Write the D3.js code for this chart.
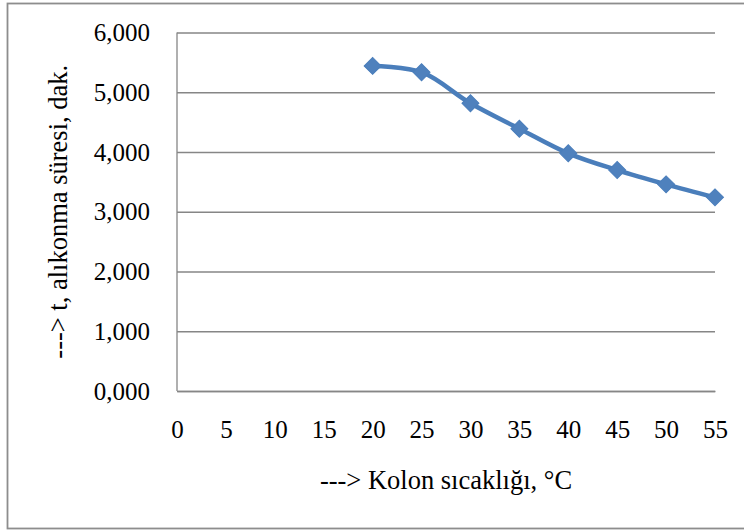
<!DOCTYPE html>
<html>
  <head>
    <meta charset="utf-8">
    <title>Kolon sıcaklığı ve alıkonma süresi</title>
    <script src="https://d3js.org/d3.v7.min.js"></script>
    <style>
      body { margin: 0; background: #fff; }
      svg { display: block; font-family: "Liberation Serif", "Times New Roman", serif; }
      .axis { font-family: "Liberation Serif", "Times New Roman", serif; }
      .axis text { fill: #000; font-size: 25px; }
      .axis path, .axis line { stroke: #868686; stroke-width: 1.3; }
      .title { font-size: 26.5px; fill: #000; }
    </style>
  </head>
  <body>
    <svg id="chart" width="744" height="530"></svg>
    <script>
      // data (column temperature °C, retention time min)
      const temps = [20, 25, 30, 35, 40, 45, 50, 55];
      const times = [5.441, 5.335, 4.816, 4.390, 3.978, 3.698, 3.459, 3.241];
      const xTicks = [0, 5, 10, 15, 20, 25, 30, 35, 40, 45, 50, 55];
      const yTicks = [0, 1, 2, 3, 4, 5, 6];
      const xTitle = "---> Kolon sıcaklığı, °C";
      const yTitle = "---> t, alıkonma süresi, dak.";

      const svg = d3.select("#chart");
      const margin = {left: 177, right: 29, top: 32.5, bottom: 139};
      const width = 744 - margin.left - margin.right;
      const height = 530 - margin.top - margin.bottom;

      // outer frame
      svg.append("rect")
        .attr("x", 7.5).attr("y", 3.5)
        .attr("width", 740).attr("height", 525)
        .attr("fill", "none")
        .attr("stroke", "#8d8d8d")
        .attr("stroke-width", 1.8);

      const g = svg.append("g")
        .attr("transform", "translate(" + margin.left + "," + margin.top + ")");

      const x = d3.scaleLinear().domain([0, 55]).range([0, width]);
      const y = d3.scaleLinear().domain([0, 6]).range([height, 0]);

      // turkish style number format: 6,000
      const tr = d3.formatLocale({decimal: ",", thousands: ".", grouping: [3], currency: ["", " TL"]});
      const yFormat = tr.format(".3f");

      g.append("g")
        .attr("class", "axis y")
        .call(d3.axisLeft(y).tickValues(yTicks).tickSize(-width).tickPadding(27).tickFormat(yFormat))
        .call(function(a) { a.attr("font-family", null).attr("font-size", null); })
        .call(function(a) { a.select(".domain").attr("d", "M0," + y(6) + "V" + y(0)); });

      g.append("g")
        .attr("class", "axis x")
        .attr("transform", "translate(0," + height + ")")
        .call(d3.axisBottom(x).tickValues(xTicks).tickSize(0).tickPadding(29))
        .call(function(a) { a.attr("font-family", null).attr("font-size", null); });

      // series
      const pts = temps.map(function(d, i) { return [x(d), y(times[i])]; });
      g.append("path")
        .datum(pts)
        .attr("fill", "none")
        .attr("stroke", "#4a7ebb")
        .attr("stroke-width", 4.5)
        .attr("stroke-linejoin", "round")
        .attr("d", d3.line().curve(d3.curveCatmullRom.alpha(0.5)));

      g.selectAll(".marker")
        .data(pts)
        .enter().append("path")
          .attr("class", "marker")
          .attr("d", d3.symbol().type(d3.symbolSquare).size(144))
          .attr("transform", function(d) { return "translate(" + d[0] + "," + d[1] + ") rotate(45)"; })
          .attr("fill", "#4f81bd")
          .attr("stroke", "#4a7ebb")
          .attr("stroke-width", 1);

      // titles
      svg.append("text")
        .attr("class", "title")
        .attr("x", margin.left + width / 2)
        .attr("y", 489)
        .attr("text-anchor", "middle")
        .text(xTitle);

      svg.append("text")
        .attr("class", "title")
        .attr("transform", "translate(67," + (margin.top + height / 2) + ") rotate(-90)")
        .attr("text-anchor", "middle")
        .text(yTitle);
    </script>
  </body>
</html>
